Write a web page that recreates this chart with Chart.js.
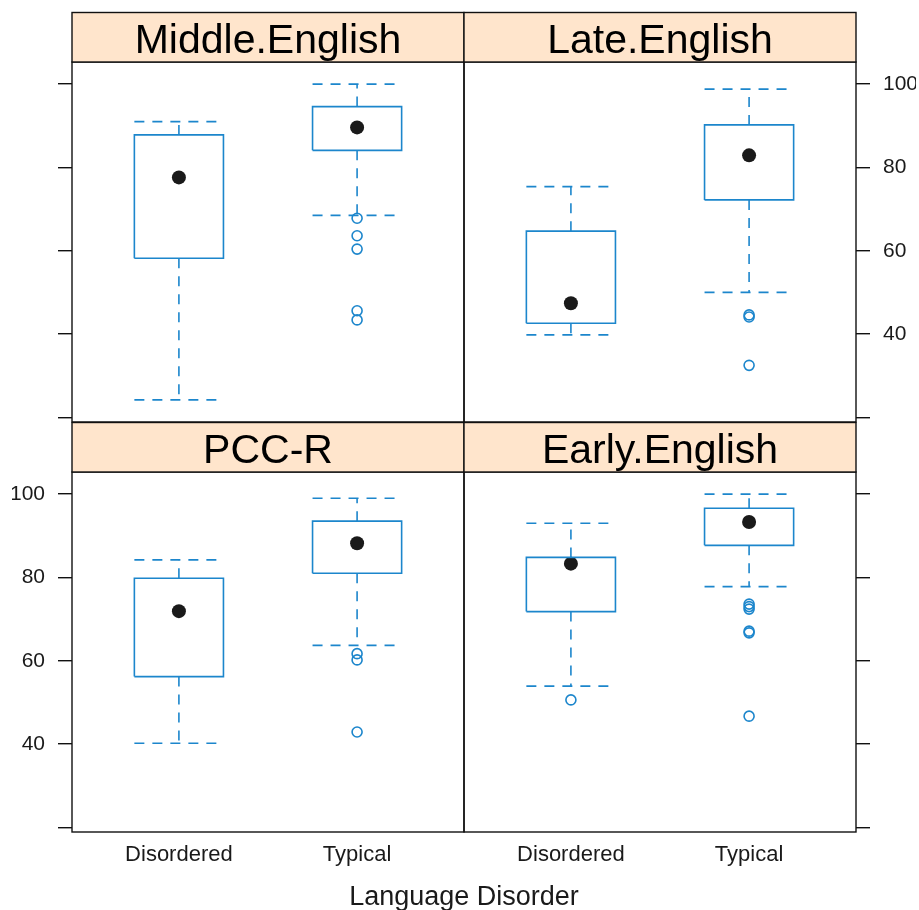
<!DOCTYPE html>
<html>
<head>
<meta charset="utf-8">
<title>Language Disorder box plots</title>
<script src="https://cdn.jsdelivr.net/npm/chart.js@4/dist/chart.umd.min.js"></script>
<style>
  html, body { margin: 0; padding: 0; background: #ffffff; }
  #wrap { position: relative; width: 919px; height: 910px; overflow: hidden; }
  #wrap canvas { position: absolute; left: 0; top: 0; }
</style>
</head>
<body>
<div id="wrap">
  <canvas id="p0" width="919" height="910"></canvas>
  <canvas id="p1" width="919" height="910"></canvas>
  <canvas id="p2" width="919" height="910"></canvas>
  <canvas id="p3" width="919" height="910"></canvas>
</div>
<script>
// Groups on the x axis and the four measures (one panel each)
const groups = ['Disordered', 'Typical'];
const panelNames = ['Middle.English', 'Late.English', 'PCC-R', 'Early.English'];

// Five-number summaries per panel: [Disordered, Typical]
const whiskerLow  = [[24.2, 68.5], [39.8, 50.0], [40.2, 63.7], [53.9, 77.8]];
const quartile1   = [[58.2, 84.1], [42.6, 72.2], [56.2, 81.0], [71.8, 87.7]];
const medians     = [[77.6, 89.6], [47.4, 82.9], [71.9, 88.2], [83.3, 93.3]];
const quartile3   = [[87.8, 94.6], [64.7, 90.2], [79.8, 93.5], [84.8, 96.6]];
const whiskerHigh = [[91.0, 100.0], [75.4, 98.8], [84.2, 99.0], [93.0, 100.0]];

// Points beyond the whiskers
const outliers = [
  [[], [67.8, 63.6, 60.4, 45.6, 43.4]],
  [[], [44.6, 44.1, 32.5]],
  [[], [61.7, 60.2, 42.9]],
  [[50.6], [73.6, 73.0, 72.4, 67.1, 66.7, 46.7]]
];

// Axis settings
const yTicks = [20, 40, 60, 80, 100];
const yLabelled = [40, 60, 80, 100];
const yLimits = [18.9, 105.3];
const xLimits = [0.4, 2.6];
const xTitle = 'Language Disorder';

// Styling
const BLUE = '#1c86cc';
const DOT = '#1a1a1a';
const STRIP_BG = '#ffe5cc';
const FONT = '"Liberation Sans", Arial, Helvetica, sans-serif';
const PAGE_W = 919, PAGE_H = 910;
const Y_AXIS_W = 60, X_AXIS_H = 40, STRIP_H = 49.5;
const BOX_HALF = 0.25;

// Where each panel sits on the page and which axes it shows
const panelFrames = [
  { left: 72,  right: 464, top: 62,  bottom: 422, side: 'left',  yText: false, xText: false },
  { left: 464, right: 856, top: 62,  bottom: 422, side: 'right', yText: true,  xText: false },
  { left: 72,  right: 464, top: 472, bottom: 832, side: 'left',  yText: true,  xText: true  },
  { left: 464, right: 856, top: 472, bottom: 832, side: 'right', yText: false, xText: true  }
];

// Strip header, frame and (optionally) the shared x title
const panelDecor = {
  id: 'panelDecor',
  afterDatasetsDraw(chart, args, opts) {
    const ctx = chart.ctx;
    const a = chart.chartArea;
    ctx.save();
    // frame
    ctx.strokeStyle = '#111111';
    ctx.lineWidth = 1.4;
    ctx.strokeRect(a.left, a.top, a.right - a.left, a.bottom - a.top);
    // strip
    const sTop = a.top - STRIP_H;
    ctx.fillStyle = STRIP_BG;
    ctx.fillRect(a.left, sTop, a.right - a.left, STRIP_H);
    ctx.strokeRect(a.left, sTop, a.right - a.left, STRIP_H);
    ctx.fillStyle = '#000000';
    ctx.font = '41px ' + FONT;
    ctx.textAlign = 'center';
    ctx.textBaseline = 'alphabetic';
    ctx.fillText(opts.text, (a.left + a.right) / 2, sTop + 40.5);
    // shared axis title
    if (opts.title) {
      ctx.font = '27px ' + FONT;
      ctx.fillStyle = '#1a1a1a';
      ctx.fillText(opts.title, a.right, 905);
    }
    ctx.restore();
  }
};

function lineSet(points, dash) {
  return {
    data: points,
    showLine: true,
    borderColor: BLUE,
    borderWidth: 1.6,
    borderDash: dash,
    borderCapStyle: 'butt',
    borderJoinStyle: 'miter',
    pointRadius: 0,
    fill: false,
    tension: 0
  };
}

function panelDatasets(p) {
  const sets = [];
  const dash = [10, 8];
  groups.forEach((g, i) => {
    const x = i + 1;
    const lo = whiskerLow[p][i], q1 = quartile1[p][i], q3 = quartile3[p][i], hi = whiskerHigh[p][i];
    // box
    sets.push(lineSet([
      { x: x - BOX_HALF, y: q1 }, { x: x + BOX_HALF, y: q1 },
      { x: x + BOX_HALF, y: q3 }, { x: x - BOX_HALF, y: q3 },
      { x: x - BOX_HALF, y: q1 }
    ], []));
    // whiskers
    sets.push(lineSet([{ x: x, y: q3 }, { x: x, y: hi }], dash));
    sets.push(lineSet([{ x: x, y: q1 }, { x: x, y: lo }], dash));
    // whisker caps
    sets.push(lineSet([{ x: x - BOX_HALF, y: hi }, { x: x + BOX_HALF, y: hi }], dash));
    sets.push(lineSet([{ x: x - BOX_HALF, y: lo }, { x: x + BOX_HALF, y: lo }], dash));
    // outliers
    sets.push({
      data: outliers[p][i].map(v => ({ x: x, y: v })),
      showLine: false,
      pointStyle: 'circle',
      pointRadius: 5,
      pointBorderWidth: 1.6,
      pointBorderColor: BLUE,
      pointBackgroundColor: 'rgba(0,0,0,0)'
    });
  });
  // medians on top
  groups.forEach((g, i) => {
    sets.push({
      data: [{ x: i + 1, y: medians[p][i] }],
      showLine: false,
      pointStyle: 'circle',
      pointRadius: 7,
      pointBorderWidth: 0,
      pointBackgroundColor: DOT,
      pointBorderColor: DOT
    });
  });
  return sets;
}

panelFrames.forEach((f, p) => {
  const pad = {
    left: f.side === 'left' ? f.left - Y_AXIS_W : f.left,
    right: f.side === 'right' ? PAGE_W - f.right - Y_AXIS_W : PAGE_W - f.right,
    top: f.top,
    bottom: f.xText ? PAGE_H - f.bottom - X_AXIS_H : PAGE_H - f.bottom
  };
  new Chart(document.getElementById('p' + p), {
    type: 'scatter',
    data: { datasets: panelDatasets(p) },
    plugins: [panelDecor],
    options: {
      responsive: false,
      animation: false,
      devicePixelRatio: 1,
      events: [],
      layout: { padding: pad },
      plugins: {
        legend: { display: false },
        tooltip: { enabled: false },
        panelDecor: { text: panelNames[p], title: p === 2 ? xTitle : null }
      },
      scales: {
        x: {
          type: 'linear',
          min: xLimits[0],
          max: xLimits[1],
          display: f.xText,
          position: 'bottom',
          grid: { display: false, drawTicks: false },
          border: { display: false },
          afterBuildTicks: s => { s.ticks = groups.map((g, i) => ({ value: i + 1 })); },
          afterFit: s => { s.height = f.xText ? X_AXIS_H : 0; },
          ticks: {
            padding: 10,
            maxRotation: 0,
            autoSkip: false,
            color: '#1a1a1a',
            font: { family: FONT, size: 22 },
            callback: v => groups[Math.round(v) - 1] || ''
          }
        },
        y: {
          type: 'linear',
          position: f.side,
          min: yLimits[0],
          max: yLimits[1],
          grid: {
            display: true,
            drawOnChartArea: false,
            drawTicks: true,
            tickLength: 14,
            color: '#111111',
            lineWidth: 1.4
          },
          border: { display: false },
          afterBuildTicks: s => { s.ticks = yTicks.map(v => ({ value: v })); },
          afterFit: s => { s.width = Y_AXIS_W; },
          ticks: {
            padding: 13,
            color: '#1a1a1a',
            font: { family: FONT, size: 21 },
            callback: v => (f.yText && yLabelled.includes(v)) ? String(v) : ''
          }
        }
      }
    }
  });
});
</script>
</body>
</html>
